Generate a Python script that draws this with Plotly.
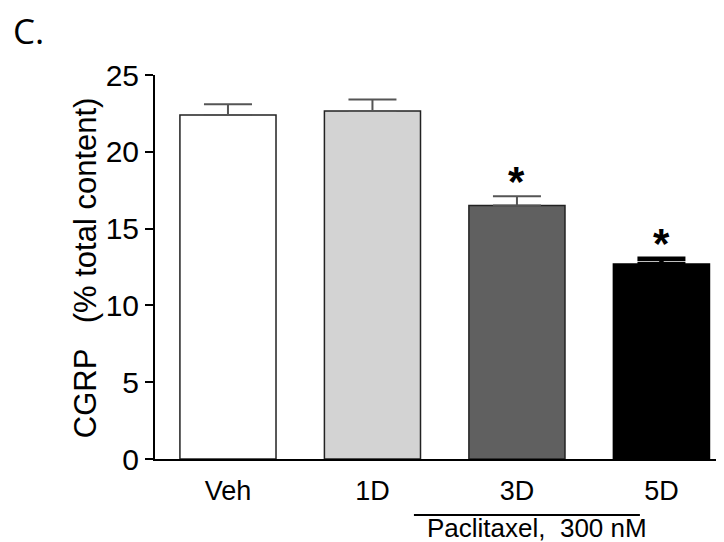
import plotly.graph_objects as go

categories = ["Veh", "1D", "3D", "5D"]
means = [22.4, 22.65, 16.5, 12.7]
sem = [0.7, 0.75, 0.6, 0.33]
bar_colors = ["#ffffff", "#d3d3d3", "#606060", "#000000"]
significant = [False, False, True, True]
y_ticks = [0, 5, 10, 15, 20, 25]

FONT = "Arial, Liberation Sans, sans-serif"

fig = go.Figure()

# first three bars (thin error bars)
fig.add_trace(go.Bar(
    x=categories[:3], y=means[:3], width=0.665,
    marker=dict(color=bar_colors[:3], line=dict(color="#222222", width=1.5)),
    error_y=dict(type="data", symmetric=False, array=sem[:3], arrayminus=[0] * 3,
                 color="#555555", thickness=2, width=24),
    showlegend=False, hoverinfo="x+y"))
# last bar (heavy error bar)
fig.add_trace(go.Bar(
    x=categories[3:], y=means[3:], width=0.665,
    marker=dict(color=bar_colors[3:], line=dict(color="#000000", width=1.5)),
    error_y=dict(type="data", symmetric=False, array=sem[3:], arrayminus=[0],
                 color="#000000", thickness=4.5, width=24),
    showlegend=False, hoverinfo="x+y"))

# significance asterisks
for i, (m, s, sig) in enumerate(zip(means, sem, significant)):
    if sig:
        fig.add_annotation(x=i, y=m + s, xref="x", yref="y", text="<b>*</b>",
                           showarrow=False, xanchor="center", yanchor="middle",
                           yshift=15,
                           font=dict(family=FONT, size=42, color="#000000"))

i3 = categories.index("3D")
i5 = categories.index("5D")

# treatment label under 3D / 5D
fig.add_annotation(x=(i3 + i5) / 2 - 0.36, y=-0.18, xref="x", yref="paper",
                   xanchor="center", yanchor="middle",
                   text="Paclitaxel,  300 nM", showarrow=False,
                   font=dict(family=FONT, size=26, color="#000000"))
fig.add_shape(type="line", xref="x", yref="paper", x0=i3 - 0.713, x1=i3 + 0.851,
              y0=-0.1458, y1=-0.1458, line=dict(color="#000000", width=2))

# y-axis title
fig.add_annotation(x=0, y=0.497, xref="paper", yref="paper", xanchor="center",
                   yanchor="middle", xshift=-70, textangle=-90,
                   text="CGRP   (% total content)", showarrow=False,
                   font=dict(family=FONT, size=31, color="#000000"))

# panel label
fig.add_annotation(x=0, y=1, xref="paper", yref="paper", xanchor="left",
                   yanchor="middle", text="C.", showarrow=False, xshift=-144, yshift=45,
                   font=dict(family="Open Sans, sans-serif", size=35, color="#000000"))

fig.update_layout(
    width=716, height=534,
    margin=dict(l=147, r=0, t=67, b=83, autoexpand=False),
    paper_bgcolor="white", plot_bgcolor="white",
    barmode="overlay",
    font=dict(family=FONT, color="#000000"),
    xaxis=dict(range=[-0.505, 3.433], showline=True, linecolor="#000000", linewidth=2,
               ticks="", showgrid=False, zeroline=False,
               tickfont=dict(family=FONT, size=27, color="#000000"),
               ticklabelstandoff=7),
    yaxis=dict(range=[0, 25], tickvals=y_ticks, showline=True, linecolor="#000000",
               linewidth=2, ticks="outside", ticklen=8, tickwidth=2, tickcolor="#000000",
               showgrid=False, zeroline=False,
               tickfont=dict(family=FONT, size=30, color="#000000")),
)

fig.write_html("out.html")
